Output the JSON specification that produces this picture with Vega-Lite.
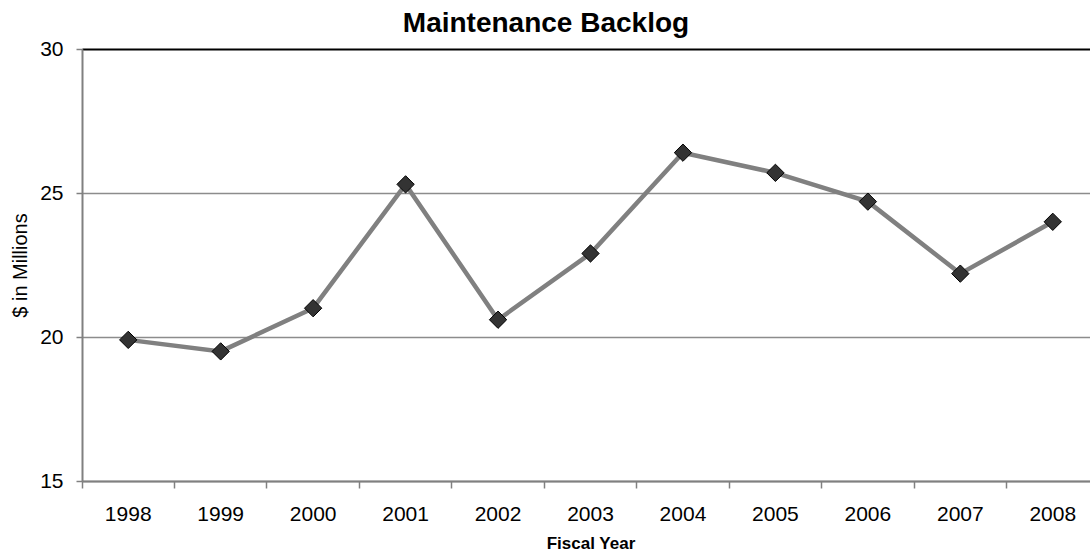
{
  "$schema": "https://vega.github.io/schema/vega-lite/v6.json",
  "autosize": {"type": "none"},
  "width": 1008,
  "height": 432,
  "padding": {"left": 82, "top": 49, "right": 0, "bottom": 71},
  "background": "white",
  "config": {
    "font": "Liberation Sans",
    "view": {"stroke": null},
    "axis": {"labelColor": "black", "titleColor": "black", "labelFont": "Liberation Sans", "titleFont": "Liberation Sans"}
  },
  "title": {
    "text": "Maintenance Backlog",
    "fontSize": 28,
    "fontWeight": "bold",
    "color": "black",
    "font": "Liberation Sans",
    "baseline": "alphabetic",
    "offset": 15,
    "dx": -40,
    "dy": 37
  },
  "data": {
    "values": [
      {"year": "1998", "value": 19.9},
      {"year": "1999", "value": 19.5},
      {"year": "2000", "value": 21.0},
      {"year": "2001", "value": 25.3},
      {"year": "2002", "value": 20.6},
      {"year": "2003", "value": 22.9},
      {"year": "2004", "value": 26.4},
      {"year": "2005", "value": 25.7},
      {"year": "2006", "value": 24.7},
      {"year": "2007", "value": 22.2},
      {"year": "2008", "value": 24.0}
    ]
  },
  "layer": [
    {
      "mark": {"type": "line", "color": "#808080", "strokeWidth": 4.5},
      "encoding": {
        "x": {
          "field": "year", "type": "ordinal",
          "scale": {"type": "band", "paddingInner": 0, "paddingOuter": 0, "range": [0, 1017]},
          "axis": {
            "orient": "bottom",
            "title": "Fiscal Year", "titleFontSize": 17, "titleFontWeight": "bold", "titlePadding": 11,
            "labelFontSize": 21, "labelAngle": 0, "labelPadding": 22,
            "ticks": false, "grid": false,
            "domainColor": "#808080", "domainWidth": 2
          }
        },
        "y": {
          "field": "value", "type": "quantitative",
          "scale": {"domain": [15, 30], "nice": false, "zero": false},
          "axis": {
            "title": "$ in Millions", "titleFontSize": 20, "titleFontWeight": "normal", "titlePadding": 9,
            "values": [15, 20, 25, 30],
            "labelFontSize": 21, "labelPadding": 13,
            "tickSize": 6, "tickColor": "#808080", "tickWidth": 1.5,
            "domainColor": "#808080", "domainWidth": 2,
            "grid": true,
            "gridColor": {"condition": {"test": "datum.value === 30", "value": "black"}, "value": "#8c8c8c"},
            "gridWidth": {"condition": {"test": "datum.value === 30", "value": 2}, "value": 1.5}
          }
        }
      }
    },
    {
      "mark": {"type": "point", "shape": "diamond", "filled": true, "fill": "#333333", "stroke": "black", "strokeWidth": 1, "size": 300, "opacity": 1},
      "encoding": {
        "x": {
          "field": "year", "type": "ordinal",
          "axis": {
            "orient": "bottom",
            "title": null, "labels": false, "domain": false, "grid": false,
            "ticks": true, "bandPosition": 0, "tickSize": 7, "tickColor": "#808080", "tickWidth": 1.5
          }
        },
        "y": {"field": "value", "type": "quantitative"}
      }
    }
  ],
  "resolve": {"axis": {"x": "independent"}}
}
